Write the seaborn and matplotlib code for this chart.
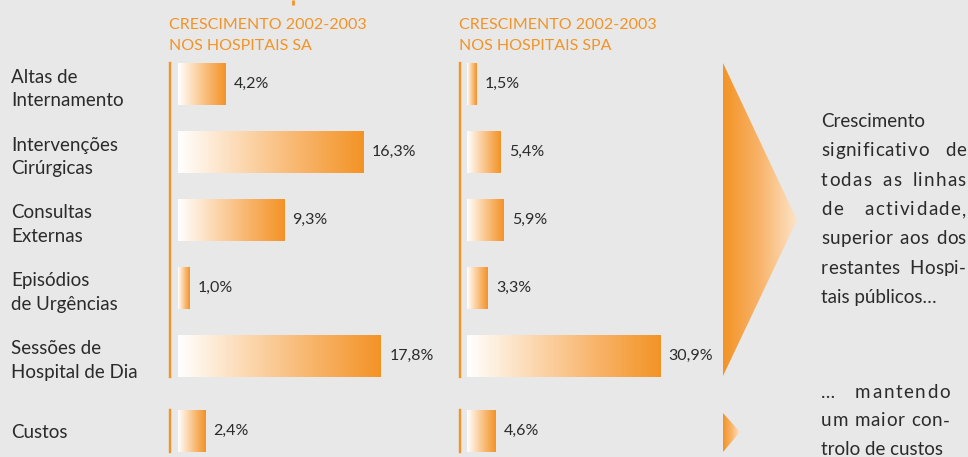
import numpy as np
import pandas as pd
import matplotlib
matplotlib.use("Agg")
import matplotlib.pyplot as plt
from matplotlib.colors import LinearSegmentedColormap
from matplotlib.patches import Polygon
import seaborn as sns

# ---------------- data ----------------
categories = ["Altas de\nInternamento", "Intervenções\nCirúrgicas", "Consultas\nExternas",
              "Episódios\nde Urgências", "Sessões de\nHospital de Dia"]
sa_values = [4.2, 16.3, 9.3, 1.0, 17.8]
spa_values = [1.5, 5.4, 5.9, 3.3, 30.9]
cost_label = ["Custos"]
sa_cost = [2.4]
spa_cost = [4.6]
header_sa = ["CRESCIMENTO 2002-2003", "NOS HOSPITAIS SA"]
header_spa = ["CRESCIMENTO 2002-2003", "NOS HOSPITAIS SPA"]
note_1 = [("Crescimento", False), ("significativo de", True), ("todas as linhas", True),
          ("de actividade,", True), ("superior aos dos", True), ("restantes Hospi-", True),
          ("tais públicos…", False)]
note_2 = [("…  mantendo", True), ("um maior con-", True), ("trolo de custos", False)]

# ---------------- style ----------------
W, H = 968, 457
BG = "#e8e8e8"
ORANGE = "#f39325"
TXT = "#2b2b2b"
FONT = ["Lato", "DejaVu Sans"]

sns.set_theme(style="white")
plt.rcParams["font.family"] = FONT
plt.rcParams["figure.facecolor"] = BG
plt.rcParams["axes.facecolor"] = "none"

bar_cmap = LinearSegmentedColormap.from_list("bar", ["#ffffff", "#fcd9b2", "#f8b46a", ORANGE])
tri_cmap = LinearSegmentedColormap.from_list("tri", [ORANGE, "#f8b46a", "#fde4c8"])

fig = plt.figure(figsize=(W / 100, H / 100), dpi=100)


def add_ax(left, top, width, bottom):
    return fig.add_axes([left / W, 1 - bottom / H, width / W, (bottom - top) / H])


BAR_W = 0.618


def panel(ax, values, cats, xmax, offset_px, show_labels):
    df = pd.DataFrame({"cat": cats, "val": values})
    sns.barplot(data=df, x="val", y="cat", orient="h", ax=ax, width=BAR_W,
                color=ORANGE, edgecolor="none")
    n = len(cats)
    # gradient fill inside each bar
    for p in ax.patches:
        x0, y0 = p.get_x(), p.get_y()
        w, h = p.get_width(), p.get_height()
        p.set_facecolor("none")
        im = ax.imshow(np.linspace(0, 1, 256)[None, :], cmap=bar_cmap, aspect="auto",
                       extent=(x0, x0 + w, y0 + h, y0), interpolation="bilinear", zorder=1)
        im.set_clip_path(p)
    ax.set_xlim(0, xmax)
    ax.set_ylim(n - 1 + BAR_W / 2, -BAR_W / 2)
    labels = [f"{v:.1f}".replace(".", ",") + "%" for v in values]
    ax.bar_label(ax.containers[0], labels=labels, padding=6, fontsize=11.5, color=TXT,
                 family=FONT)
    for s in ["top", "right", "bottom"]:
        ax.spines[s].set_visible(False)
    ax.spines["left"].set_color(ORANGE)
    ax.spines["left"].set_linewidth(1.7)
    ax.spines["left"].set_position(("outward", offset_px * 0.72))
    ax.set_xlabel("")
    ax.set_ylabel("")
    ax.set_xticks([])
    ax.tick_params(axis="y", length=0)
    if show_labels:
        spine_x = ax.get_position().x0 * W - offset_px
        pad_px = spine_x - 11
        ax.tick_params(axis="y", pad=pad_px * 0.72, labelsize=13.5, labelcolor=TXT)
        for t in ax.get_yticklabels():
            t.set_ha("left")
            t.set_linespacing(1.45)
    else:
        ax.set_yticklabels([])


# SA panel
ax1 = add_ax(178, 63, 228, 377)
panel(ax1, sa_values, categories, 20, 8, True)
ax1c = add_ax(178, 410, 228, 452)
panel(ax1c, sa_cost, cost_label, 20, 8, True)

# SPA panel
ax2 = add_ax(467, 63, 200, 377)
panel(ax2, spa_values, categories, 32, 7, False)
ax2c = add_ax(467, 410, 200, 452)
panel(ax2c, spa_cost, cost_label, 32, 7, False)

# headers
for (x, lines) in [(169, header_sa), (459, header_spa)]:
    for i, line in enumerate(lines):
        fig.text(x / W, 1 - (29 + 21 * i) / H, line, color=ORANGE, fontsize=11.5,
                 va="baseline", ha="left")

# overlay for decorations (pixel coords)
ov = fig.add_axes([0, 0, 1, 1])
ov.set_xlim(0, W)
ov.set_ylim(H, 0)
ov.axis("off")
ov.plot([293, 293], [0, 5], color=ORANGE, lw=2, solid_capstyle="butt")

for verts in ([(723, 63), (797, 220), (723, 376)], [(723, 413), (740, 432), (723, 452)]):
    poly = Polygon(verts, closed=True, facecolor="none", edgecolor="none")
    ov.add_patch(poly)
    xs = [v[0] for v in verts]
    ys = [v[1] for v in verts]
    im = ov.imshow(np.linspace(0, 1, 256)[None, :], cmap=tri_cmap, aspect="auto",
                   extent=(min(xs), max(xs), max(ys), min(ys)), interpolation="bilinear")
    im.set_clip_path(poly)
ov.set_xlim(0, W)
ov.set_ylim(H, 0)

# justified note text (with mild letter tracking, like the original typesetting)
renderer = fig.canvas.get_renderer()
NOTE_SIZE = 13.5


def char_width(c, size):
    t = ov.text(0, 0, c, fontsize=size)
    w = t.get_window_extent(renderer).width
    t.remove()
    return w


def text_line(line, justify, x_left, x_right, y, size=NOTE_SIZE):
    words = line.split()
    if not justify or len(words) == 1:
        ov.text(x_left, y, line, fontsize=size, color=TXT, va="baseline", ha="left")
        return
    cw = [[char_width(c, size) for c in w] for w in words]
    natural = sum(sum(c) for c in cw)
    n_char_gaps = sum(len(w) - 1 for w in words)
    n_word_gaps = len(words) - 1
    extra = x_right - x_left - natural
    base_space = 4.0
    spare = extra - base_space * n_word_gaps
    track = min(max(spare * 0.45 / max(n_char_gaps, 1), 0), 1.6)
    word_gap = (extra - track * n_char_gaps) / n_word_gaps
    x = x_left
    for w, widths in zip(words, cw):
        for c, cwid in zip(w, widths):
            ov.text(x, y, c, fontsize=size, color=TXT, va="baseline", ha="left")
            x += cwid + track
        x += word_gap - track


for i, (line, j) in enumerate(note_1):
    text_line(line, j, 821, 966, 127 + 29.3 * i)
for i, (line, j) in enumerate(note_2):
    text_line(line, j, 821, 950, 398 + 28.5 * i)

fig.savefig("out.png", dpi=100, facecolor=BG)
